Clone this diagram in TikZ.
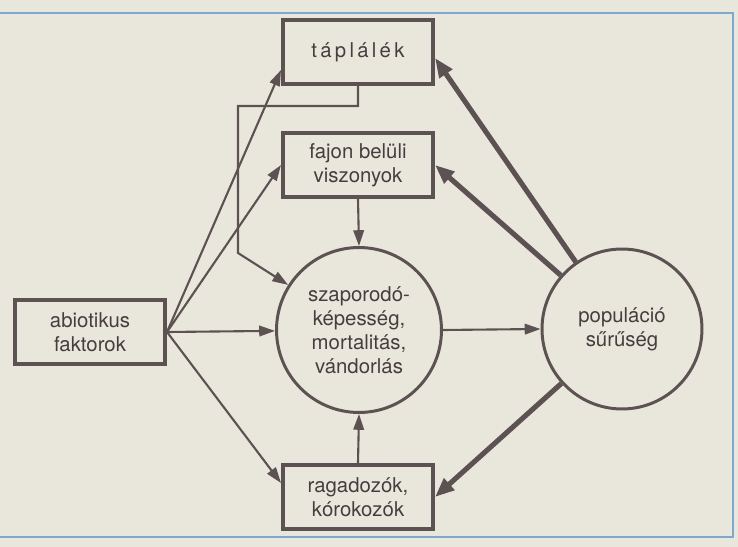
\documentclass[tikz,border=0pt]{standalone}
\usepackage{fontspec}
\setmainfont{TeX Gyre Heros}
\newfontfamily\spacedfont[LetterSpace=16]{TeX Gyre Heros}
\usepackage{xcolor}
\usepackage{tikz}
\usetikzlibrary{arrows.meta}
\definecolor{lineColor}{RGB}{92, 82, 82}
\definecolor{textColor}{RGB}{70, 62, 62}
\definecolor{paperBg}{RGB}{233, 231, 219}
\definecolor{frameBlue}{RGB}{121, 170, 213}

\begin{document}
\begin{tikzpicture}[x=0.02cm, y=-0.02cm,
    font=\fontsize{11.6}{13.6}\selectfont, text=textColor,
    factorbox/.style={draw=lineColor, line width=2.3pt, minimum width=3.0cm,
        minimum height=1.28cm, align=center, inner sep=2pt},
    statecircle/.style={draw=lineColor, line width=1.7pt, circle,
        align=center, inner sep=0pt},
    thinarrow/.style={draw=lineColor, line width=1.2pt,
        -{Triangle[length=9pt, width=6pt]}},
    thickarrow/.style={draw=lineColor, line width=2.9pt,
        -{Triangle[length=11pt, width=8.5pt]}}]
    % Paper and blue frame
    \fill[paperBg] (0, 0) rectangle (738, 547);
    \useasboundingbox (0, 0) rectangle (738, 547);
    \draw[frameBlue, line width=1.7pt] (0, 13) -- (733, 13) -- (733, 537) -- (0, 537);

    % Boxes
    \node[factorbox] (taplalek) at (358, 52) {\spacedfont táplálék};
    \node[factorbox] (fajon) at (358, 165) {fajon belüli\\viszonyok};
    \node[factorbox] (abiotikus) at (90, 332) {abiotikus\\faktorok};
    \node[factorbox] (ragadozo) at (358, 497) {ragadozók,\\kórokozók};

    % Circles
    \node[statecircle, minimum size=3.3cm] (szapor) at (359, 330)
        {szaporodó-\\képesség,\\mortalitás,\\vándorlás};
    \node[statecircle, minimum size=3.2cm] (suruseg) at (622, 329)
        {populáció\\sűrűség};

    % Thin arrows
    \coordinate (kanyar) at (238, 253);
    \draw[thinarrow] (taplalek.south) -- ++(0, 20) -| (kanyar) -- (szapor);
    \draw[thinarrow] (abiotikus.east) -- ([yshift=-0.36cm]taplalek.west);
    \draw[thinarrow] (abiotikus.east) -- (fajon.west);
    \draw[thinarrow] (abiotikus.east) -- (szapor);
    \draw[thinarrow] (abiotikus.east) -- ([yshift=0.28cm]ragadozo.west);
    \draw[thinarrow] (fajon.south) -- (szapor.north);
    \draw[thinarrow] (ragadozo.north) -- (szapor.south);
    \draw[thinarrow] (szapor.east) -- (suruseg.west);

    % Thick arrows back from the density
    \draw[thickarrow] (suruseg) -- ([yshift=-0.12cm]taplalek.east);
    \draw[thickarrow] (suruseg) -- (fajon.east);
    \draw[thickarrow] (suruseg) -- (ragadozo.east);
\end{tikzpicture}
\end{document}
